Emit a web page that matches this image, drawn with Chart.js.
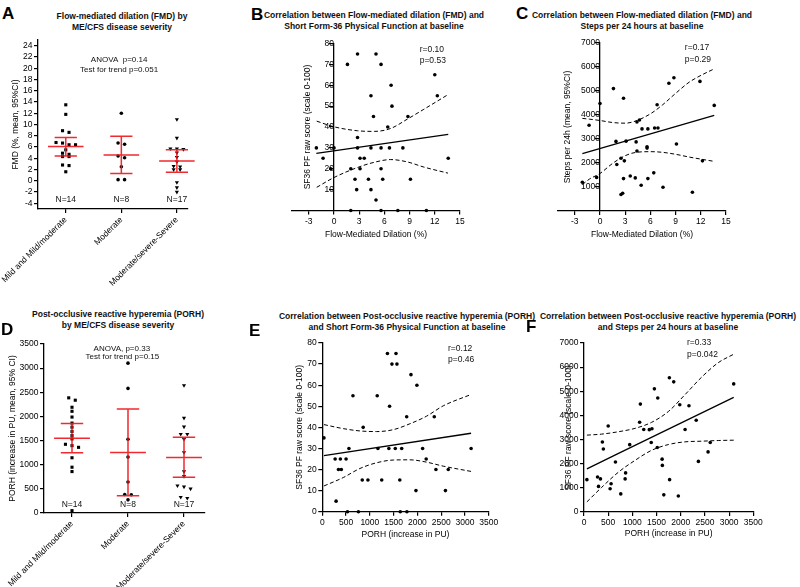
<!DOCTYPE html>
<html><head><meta charset="utf-8">
<script src="https://cdn.jsdelivr.net/npm/chart.js@4.4.1/dist/chart.umd.min.js"></script>
<style>
body{margin:0;background:#fff;}
#wrap{position:relative;width:800px;height:587px;overflow:hidden;font-family:'Liberation Sans',Arial,Helvetica,sans-serif;color:#000;background:#fff;}
canvas{position:absolute;}
.ttl{position:absolute;width:320px;font-weight:bold;font-size:8.5px;line-height:11px;text-align:center;white-space:nowrap;color:#111;}
.let{position:absolute;font-weight:bold;font-size:17px;line-height:17px;color:#000;}
</style></head><body><div id="wrap">
<canvas id="cA" width="200" height="260" style="left:0px;top:35px"></canvas>
<canvas id="cB" width="210" height="210" style="left:262px;top:35px"></canvas>
<canvas id="cC" width="205" height="210" style="left:530px;top:35px"></canvas>
<canvas id="cD" width="215" height="252" style="left:0px;top:335px"></canvas>
<canvas id="cE" width="240" height="252" style="left:262px;top:335px"></canvas>
<canvas id="cF" width="240" height="252" style="left:530px;top:335px"></canvas>

<div class="ttl" style="left:-38px;top:10.5px">Flow-mediated dilation (FMD) by<br>ME/CFS disease severity</div>
<div class="ttl" style="left:214px;top:9.5px">Correlation between Flow-mediated dilation (FMD) and<br>Short Form-36 Physical Function at baseline</div>
<div class="ttl" style="left:482px;top:9.5px">Correlation between Flow-mediated dilation (FMD) and<br>Steps per 24 hours at baseline</div>
<div class="ttl" style="left:-42px;top:308.5px">Post-occlusive reactive hyperemia (PORH)<br>by ME/CFS disease severity</div>
<div class="ttl" style="left:247px;top:311px">Correlation between Post-occlusive reactive hyperemia (PORH)<br>and Short Form-36 Physical Function at baseline</div>
<div class="ttl" style="left:508px;top:310.5px">Correlation between Post-occlusive reactive hyperemia (PORH)<br>and Steps per 24 hours at baseline</div>

<div class="let" style="left:2px;top:4.5px">A</div>
<div class="let" style="left:251px;top:5.5px">B</div>
<div class="let" style="left:516px;top:4.5px">C</div>
<div class="let" style="left:1px;top:321px">D</div>
<div class="let" style="left:249px;top:322px">E</div>
<div class="let" style="left:526px;top:318px">F</div>
</div>
<script>
// ---------------- DATA ----------------
const categories = ['Mild and Mild/moderate', 'Moderate', 'Moderate/severe-Severe'];
const groupCounts = ['N=14', 'N=8', 'N=17'];

// Panel A: FMD by severity
const fmdMild = [13.5, 11.8, 8.9, 8.6, 6.8, 6.7, 6.4, 6.4, 5.5, 4.9, 4.7, 4.3, 4.3, 2.8, 2.7, 1.6];
const fmdModerate = [12.0, 6.7, 6.5, 4.4, 4.1, 2.5, 0.2, 0.2];
const fmdSevere = [10.9, 7.6, 5.7, 5.7, 5.6, 5.0, 4.2, 3.4, 2.6, 2.5, 2.0, 2.0, -0.3, -1.2, -2.0];
const fmdMean = [6.1, 4.6, 3.5];
const fmdCiLow = [4.4, 1.3, 1.5];
const fmdCiHigh = [7.7, 7.9, 5.5];
const fmdTicks = [-4, -2, 0, 2, 4, 6, 8, 10, 12, 14, 16, 18, 20, 22, 24];
const fmdStats = ['ANOVA  p=0.14', 'Test for trend p=0.051'];

// Panel D: PORH by severity
const porhMild = [2385, 2336, 2190, 2106, 1987, 1862, 1778, 1688, 1604, 1534, 1423, 1395, 1360, 1144, 948, 858, 49];
const porhModerate = [3103, 2580, 1527, 1158, 642, 384, 377, 272];
const porhSevere = [2643, 1967, 1785, 1632, 1632, 1530, 1255, 858, 760, 565, 544, 502, 328, 307];
const porhMean = [1550, 1255, 1150];
const porhCiLow = [1248, 356, 739];
const porhCiHigh = [1855, 2155, 1569];
const porhTicks = [0, 500, 1000, 1500, 2000, 2500, 3000, 3500];
const porhStats = ['ANOVA, p=0.33', 'Test for trend p=0.15'];

// Panel B: FMD vs SF36
const bFmd =  [1.6, 2.8, 5.0, 5.6, 12.0, 6.8, 4.4, 12.3, 6.9, 4.7, 8.8, 6.4, 2.8, -2.1, 0, 2.8, 4.4, 5.6, 6.6, 8.2, -1.3, 3.1, 3.6, 13.6, -0.4, 2.0, 3.1, 5.6, 2.5, 4.1, 5.8, 9.1, 2.7, 4.4, 5.0, 2.0, 5.6, 7.6, 11.0];
const bSf36 = [70, 75, 75, 70, 65, 60, 55, 55, 50, 45, 45, 40, 35, 30, 30, 30, 30, 30, 30, 30, 25, 25, 25, 25, 20, 20, 20, 20, 15, 15, 15, 15, 10, 10, 5, 0, 0, 0, 0];
const bFitX = [-2.1, 13.6];
const bFitY = [27.4, 36.5];
const bBandX =    [-2.06, 0, 2.8, 4.8, 6.75, 8.7, 10.7, 13.57];
const bBandHigh = [42.8, 40.1, 38.2, 37.9, 39.3, 43.7, 48.5, 55.5];
const bBandLow =  [11.1, 15.8, 20.6, 23.1, 24.4, 23.3, 20.8, 17.9];
const bStats = ['r=0.10', 'p=0.53'];

// Panel C: FMD vs steps
const cFmd =   [-2.1, -1.3, -0.4, 0, 1.6, 2.8, 1.9, 3.1, 2.0, 2.5, 2.9, 2.8, 2.5, 2.7, 3.6, 4.2, 4.4, 4.7, 4.3, 4.4, 5.0, 5.7, 5.6, 5.6, 4.9, 5.7, 6.4, 6.5, 6.9, 6.8, 7.5, 8.2, 8.8, 9.1, 11.0, 11.9, 12.2, 13.6];
const cSteps = [1200, 3570, 1400, 4480, 5100, 4700, 2900, 2910, 1940, 2200, 2090, 1350, 690, 740, 1460, 1380, 3710, 3790, 2880, 2500, 3420, 3420, 2680, 2620, 1070, 1350, 1590, 3460, 3460, 4430, 990, 5320, 5550, 2790, 780, 5400, 2090, 4400];
const cFitX = [-2.1, 13.6];
const cFitY = [2390, 3980];
const cBandX =    [-2.1, -1.27, 0, 1.5, 3, 4.3, 6.07, 7.46, 9.05, 10.6, 12.2, 13.6];
const cBandHigh = [3860, 3827, 3771, 3687, 3659, 3757, 4064, 4427, 4916, 5363, 5684, 5922];
const cBandLow =  [1100, 1327, 1564, 1983, 2304, 2444, 2472, 2444, 2360, 2249, 2150, 2067];
const cStats = ['r=0.17', 'p=0.29'];

// Panel E: PORH vs SF36
const ePorh = [35, 290, 270, 380, 500, 340, 400, 560, 530, 645, 760, 860, 840, 960, 1155, 1170, 1250, 1370, 1415, 1400, 1465, 1550, 1570, 1535, 1670, 1630, 1640, 1780, 1775, 1865, 1990, 1970, 2110, 2185, 2355, 2390, 2590, 2650, 3130];
const eSf36 = [35, 5, 25, 25, 25, 20, 20, 30, 0, 55, 0, 40, 15, 15, 55, 30, 15, 75, 50, 30, 70, 75, 70, 30, 30, 15, 0, 0, 45, 65, 60, 10, 30, 25, 45, 20, 10, 20, 30];
const eFitX = [35, 3130];
const eFitY = [26.6, 37.2];
const eBandX =    [35, 441, 792, 1142, 1493, 1843, 2193, 2544, 3130];
const eBandHigh = [41.3, 39.4, 38.3, 38.0, 38.9, 41.7, 45.3, 50.2, 55.6];
const eBandLow =  [12.2, 16.2, 20.5, 23.2, 24.5, 24.6, 23.5, 21.6, 19.1];
const eStats = ['r=0.12', 'p=0.46'];

// Panel F: PORH vs steps
const fPorh =  [60, 280, 300, 340, 380, 400, 500, 560, 540, 650, 760, 850, 860, 945, 1150, 1165, 1235, 1350, 1405, 1390, 1455, 1525, 1515, 1615, 1620, 1650, 1770, 1765, 1855, 1980, 1950, 2090, 2170, 2320, 2365, 2565, 2610, 3095];
const fSteps = [1340, 1450, 1060, 1370, 2900, 2610, 3560, 1170, 960, 2070, 750, 1370, 1620, 2790, 3715, 4470, 3420, 3410, 3450, 2880, 5100, 4720, 2670, 2190, 1930, 710, 1340, 5560, 5390, 4440, 660, 3420, 4400, 3800, 2095, 2490, 2880, 5305];
const fFitX = [60, 3095];
const fFitY = [1788, 4749];
const fBandX =    [60, 365, 710, 1054, 1399, 1744, 2088, 2433, 2777, 3095];
const fBandHigh = [3184, 3226, 3324, 3464, 3715, 4162, 4860, 5587, 6187, 6536];
const fBandLow =  [419, 1020, 1648, 2137, 2556, 2793, 2905, 2933, 2961, 2975];
const fStats = ['r=0.33', 'p=0.042'];

const fmdAxisTicks = [-3, 0, 3, 6, 9, 12, 15];
const sf36Ticks = [10, 20, 30, 40, 50, 60, 70, 80];
const sf36TicksFull = [0, 10, 20, 30, 40, 50, 60, 70, 80];
const stepsTicks = [1000, 2000, 3000, 4000, 5000, 6000, 7000];
const stepsTicksFull = [0, 1000, 2000, 3000, 4000, 5000, 6000, 7000];
const porhAxisTicks = [0, 500, 1000, 1500, 2000, 2500, 3000, 3500];

// ---------------- HELPERS ----------------
const FONT = "'Liberation Sans', Arial, Helvetica, sans-serif";
Chart.defaults.font.family = FONT;
Chart.defaults.font.size = 8.5;
Chart.defaults.color = '#000';
Chart.defaults.animation = false;

const zip = (xs, ys) => xs.map((x, i) => ({x: x, y: ys[i]}));

// beeswarm-like horizontal spreading of points with similar values
function swarm(values, center, step, thr) {
  const idx = values.map((v, i) => i).sort((a, b) => values[b] - values[a]);
  const pts = new Array(values.length);
  let i = 0;
  while (i < idx.length) {
    let j = i;
    const first = values[idx[i]];
    while (j + 1 < idx.length && first - values[idx[j + 1]] < thr) j++;
    const n = j - i + 1;
    for (let k = 0; k < n; k++) {
      pts[idx[i + k]] = {x: center + (k - (n - 1) / 2) * step, y: values[idx[i + k]]};
    }
    i = j + 1;
  }
  return pts;
}

function axis(o) {
  const a = {
    type: 'linear', min: o.min, max: o.max,
    afterBuildTicks: s => { s.ticks = o.ticks.map(v => ({value: v})); },
    afterFit: s => {
      if (o.width !== undefined) s.width = o.width;
      if (o.height !== undefined) s.height = o.height;
      s.paddingLeft = 0; s.paddingRight = 0; s.paddingTop = 0; s.paddingBottom = 0;
    },
    grid: {display: true, drawOnChartArea: false, drawTicks: true, tickLength: 4, color: '#000', lineWidth: 1.2, tickWidth: 1.2},
    border: {display: true, color: '#000', width: 1.3},
    ticks: {color: '#000', font: {size: 8.5, family: FONT}, padding: o.tickPad !== undefined ? o.tickPad : 1.5,
            autoSkip: false, minRotation: o.rot || 0, maxRotation: o.rot || 0,
            callback: o.cb || (v => String(v))},
    title: o.title ? {display: true, text: o.title, color: '#000', font: {size: 8.5, family: FONT}, padding: o.titlePad} : {display: false}
  };
  if (o.position !== undefined) a.position = o.position;
  return a;
}

function errBars(mean, lo, hi) {
  return {
    id: 'errBars',
    afterDatasetsDraw(chart) {
      const {ctx, scales: {x, y}} = chart;
      ctx.save();
      ctx.strokeStyle = 'rgba(240,24,30,0.92)';
      ctx.lineWidth = 1.5;
      mean.forEach((m, i) => {
        const c = i + 1;
        const xc = x.getPixelForValue(c);
        const ym = y.getPixelForValue(m), yl = y.getPixelForValue(lo[i]), yh = y.getPixelForValue(hi[i]);
        ctx.beginPath();
        ctx.moveTo(x.getPixelForValue(c - 0.32), ym); ctx.lineTo(x.getPixelForValue(c + 0.32), ym);
        ctx.moveTo(x.getPixelForValue(c - 0.2), yl); ctx.lineTo(x.getPixelForValue(c + 0.2), yl);
        ctx.moveTo(x.getPixelForValue(c - 0.2), yh); ctx.lineTo(x.getPixelForValue(c + 0.2), yh);
        ctx.moveTo(xc, yl); ctx.lineTo(xc, yh);
        ctx.stroke();
      });
      ctx.restore();
    }
  };
}

function notes(list) {
  return {
    id: 'notes',
    afterDraw(chart) {
      const {ctx, scales: {x, y}} = chart;
      ctx.save();
      ctx.fillStyle = '#111';
      ctx.textBaseline = 'middle';
      list.forEach(n => {
        ctx.font = (n.size || 8.5) + 'px ' + FONT;
        ctx.textAlign = n.align || 'center';
        ctx.fillText(n.text, x.getPixelForValue(n.x), y.getPixelForValue(n.y));
      });
      ctx.restore();
    }
  };
}

function yTitle(text, offsetPx) {
  return {
    id: 'ytitle',
    afterDraw(chart) {
      const {ctx, chartArea, scales: {x}} = chart;
      const px = x.getPixelForValue(0) - offsetPx;
      const py = (chartArea.top + chartArea.bottom) / 2;
      ctx.save();
      ctx.translate(px, py);
      ctx.rotate(-Math.PI / 2);
      ctx.font = '8.5px ' + FONT;
      ctx.fillStyle = '#000';
      ctx.textAlign = 'center';
      ctx.textBaseline = 'middle';
      ctx.fillText(text, 0, 0);
      ctx.restore();
    }
  };
}

const baseOpts = (padding) => ({
  responsive: false, animation: false, events: [],
  layout: {padding: padding},
  plugins: {legend: {display: false}, tooltip: {enabled: false}}
});

function groupDatasets(g1, g2, g3, step, thr) {
  return [
    {data: swarm(g1, 1, step, thr), pointStyle: 'rect', pointRadius: 2.2, pointBackgroundColor: '#000', pointBorderColor: '#000', pointBorderWidth: 0, clip: false},
    {data: swarm(g2, 2, step, thr), pointStyle: 'circle', pointRadius: 1.8, pointBackgroundColor: '#000', pointBorderColor: '#000', pointBorderWidth: 0, clip: false},
    {data: swarm(g3, 3, step, thr), pointStyle: 'triangle', pointRotation: 180, pointRadius: 2.4, pointBackgroundColor: '#000', pointBorderColor: '#000', pointBorderWidth: 0, clip: false}
  ];
}

function corrDatasets(xs, ys, fitX, fitY, bandX, bandHigh, bandLow) {
  const line = {showLine: true, pointRadius: 0, pointHoverRadius: 0, borderColor: '#000', fill: false, cubicInterpolationMode: 'monotone', clip: false};
  return [
    Object.assign({data: zip(bandX, bandHigh), borderWidth: 1, borderDash: [4, 2.5]}, line),
    Object.assign({data: zip(bandX, bandLow), borderWidth: 1, borderDash: [4, 2.5]}, line),
    Object.assign({data: zip(fitX, fitY), borderWidth: 1.3}, line),
    {data: zip(xs, ys), pointStyle: 'circle', pointRadius: 1.8, pointBackgroundColor: '#000', pointBorderColor: '#000', pointBorderWidth: 0, clip: false}
  ];
}

const catLabel = v => categories[Math.round(v) - 1];

// ---------------- PANEL A ----------------
new Chart(document.getElementById('cA'), {
  type: 'scatter',
  data: {datasets: groupDatasets(fmdMild, fmdModerate, fmdSevere, 0.117, 0.57)},
  options: Object.assign(baseOpts({left: 0, top: 5.1, right: 12, bottom: 0}), {
    scales: {
      x: axis({min: 0.5, max: 3.2, ticks: [1, 2, 3], height: 86.1, rot: 45, cb: catLabel, tickPad: 2}),
      y: axis({min: -5, max: 25, ticks: fmdTicks, width: 38, title: 'FMD (%, mean, 95%CI)', titlePad: {top: 10.9, bottom: 0}})
    }
  }),
  plugins: [errBars(fmdMean, fmdCiLow, fmdCiHigh), notes([
    {x: 1.96, y: 21.5, text: fmdStats[0], size: 8},
    {x: 1.96, y: 19.8, text: fmdStats[1], size: 8},
    {x: 1, y: -3.4, text: groupCounts[0]},
    {x: 2, y: -3.4, text: groupCounts[1]},
    {x: 3, y: -3.4, text: groupCounts[2]}
  ])]
});

// ---------------- PANEL D ----------------
new Chart(document.getElementById('cD'), {
  type: 'scatter',
  data: {datasets: groupDatasets(porhMild, porhModerate, porhSevere, 0.117, 66)},
  options: Object.assign(baseOpts({left: 0, top: 9, right: 10, bottom: 0}), {
    scales: {
      x: axis({min: 0.5, max: 3.375, ticks: [1, 2, 3], height: 74, rot: 45, cb: catLabel, tickPad: 2}),
      y: axis({min: 0, max: 3500, ticks: porhTicks, width: 44, title: 'PORH (increase in PU, mean, 95% CI)', titlePad: {top: 7.9, bottom: 0}})
    }
  }),
  plugins: [errBars(porhMean, porhCiLow, porhCiHigh), notes([
    {x: 1.89, y: 3410, text: porhStats[0], size: 8},
    {x: 1.9, y: 3236, text: porhStats[1], size: 8},
    {x: 1, y: 166, text: groupCounts[0]},
    {x: 2, y: 166, text: groupCounts[1]},
    {x: 3, y: 166, text: groupCounts[2]}
  ])]
});

// ---------------- PANEL B ----------------
new Chart(document.getElementById('cB'), {
  type: 'scatter',
  data: {datasets: corrDatasets(bFmd, bSf36, bFitX, bFitY, bBandX, bBandHigh, bBandLow)},
  options: Object.assign(baseOpts({left: 30, top: 8.5, right: 12, bottom: 0}), {
    scales: {
      x: axis({min: -5, max: 15, ticks: fmdAxisTicks, height: 34.5, position: 'bottom', title: 'Flow-Mediated Dilation (%)', titlePad: {top: 0, bottom: 4.9}, tickPad: 2}),
      y: axis({min: 0, max: 80, ticks: sf36Ticks, position: {x: 0}})
    }
  }),
  plugins: [yTitle('SF36 PF raw score (scale 0-100)', 26.3), notes([
    {x: 10.2, y: 77.1, text: bStats[0], align: 'left'},
    {x: 10.2, y: 71.9, text: bStats[1], align: 'left'}
  ])]
});

// ---------------- PANEL C ----------------
new Chart(document.getElementById('cC'), {
  type: 'scatter',
  data: {datasets: corrDatasets(cFmd, cSteps, cFitX, cFitY, cBandX, cBandHigh, cBandLow)},
  options: Object.assign(baseOpts({left: 28, top: 8, right: 9, bottom: 0}), {
    scales: {
      x: axis({min: -5, max: 15, ticks: fmdAxisTicks, height: 34, position: 'bottom', title: 'Flow-Mediated Dilation (%)', titlePad: {top: 0, bottom: 4.9}, tickPad: 2}),
      y: axis({min: 0, max: 7000, ticks: stepsTicks, position: {x: 0}})
    }
  }),
  plugins: [yTitle('Steps per 24h (mean, 95%CI)', 32), notes([
    {x: 10.1, y: 6804, text: cStats[0], align: 'left'},
    {x: 10.1, y: 6292, text: cStats[1], align: 'left'}
  ])]
});

// ---------------- PANEL E ----------------
new Chart(document.getElementById('cE'), {
  type: 'scatter',
  data: {datasets: corrDatasets(ePorh, eSf36, eFitX, eFitY, eBandX, eBandHigh, eBandLow)},
  options: Object.assign(baseOpts({left: 0, top: 8, right: 13.3, bottom: 0}), {
    scales: {
      x: axis({min: 0, max: 3500, ticks: porhAxisTicks, height: 75.3, position: 'bottom', title: 'PORH (increase in PU)', titlePad: {top: 0, bottom: 46.9}, tickPad: 2}),
      y: axis({min: 0, max: 80, ticks: sf36TicksFull, width: 60.3, position: 'left', title: 'SF36 PF raw score (scale 0-100)', titlePad: {top: 32.9, bottom: 0}})
    }
  }),
  plugins: [notes([
    {x: 2644, y: 77.1, text: eStats[0], align: 'left'},
    {x: 2644, y: 72.0, text: eStats[1], align: 'left'}
  ])]
});

// ---------------- PANEL F ----------------
new Chart(document.getElementById('cF'), {
  type: 'scatter',
  data: {datasets: corrDatasets(fPorh, fSteps, fFitX, fFitY, fBandX, fBandHigh, fBandLow)},
  options: Object.assign(baseOpts({left: 0, top: 8, right: 16.7, bottom: 0}), {
    scales: {
      x: axis({min: 0, max: 3500, ticks: porhAxisTicks, height: 75, position: 'bottom', title: 'PORH (increase in PU)', titlePad: {top: 0, bottom: 47.9}, tickPad: 2}),
      y: axis({min: 0, max: 7000, ticks: stepsTicksFull, width: 54, position: 'left', title: 'SF36 PF raw score (scale 0-100)', titlePad: {top: 33.9, bottom: 0}})
    }
  }),
  plugins: [notes([
    {x: 2129, y: 7000, text: fStats[0], align: 'left'},
    {x: 2129, y: 6503, text: fStats[1], align: 'left'}
  ])]
});
</script>
</body></html>
